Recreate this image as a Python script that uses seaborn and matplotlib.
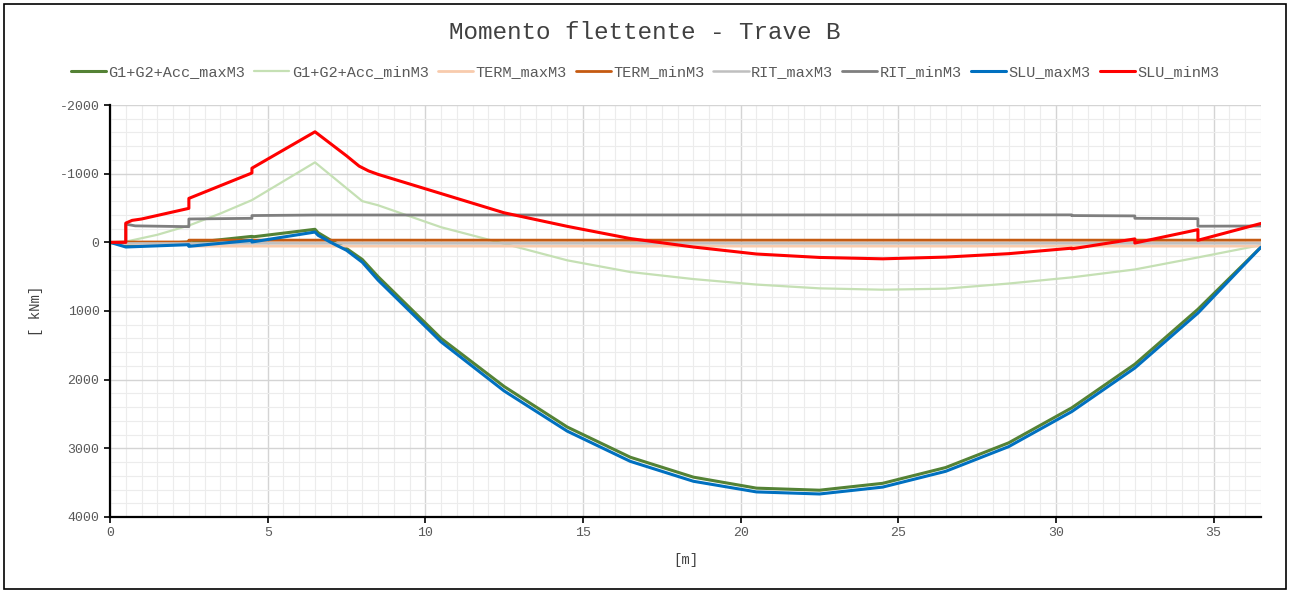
import numpy as np
import pandas as pd
import matplotlib
matplotlib.use("Agg")
import matplotlib.pyplot as plt
from matplotlib.ticker import MultipleLocator
from matplotlib.patches import Rectangle
import seaborn as sns

# ---------------- data ----------------
x_g1max = [0, 0.5, 2.5, 2.5, 4.5, 4.5, 6.5, 6.6, 7.0, 7.5, 8.0, 8.5, 10.5, 12.5, 14.5, 16.5,
           18.5, 20.5, 22.5, 24.5, 26.5, 28.5, 30.5, 32.5, 34.5, 36.5]
y_g1max = [0, 45, -5, 10, -87, -78, -190, -140, -30, 90, 250, 500, 1400, 2100, 2690, 3130,
           3420, 3580, 3610, 3510, 3280, 2920, 2410, 1775, 975, 70]

x_g1min = [0, 0.5, 1.5, 2.5, 3.5, 4.5, 6.5, 8.0, 8.5, 10.5, 12.5, 14.5, 16.5, 18.5, 20.5,
           22.5, 24.5, 26.5, 28.5, 30.5, 32.5, 34.5, 36.5]
y_g1min = [0, -10, -110, -245, -420, -615, -1165, -600, -540, -220, 20, 262, 432, 535, 615,
           670, 690, 675, 600, 510, 395, 220, 40]

x_termmax = [0, 0.5, 2.5, 2.5, 36.5]
y_termmax = [0, 20, 20, 55, 55]

x_termmin = [0, 0.5, 2.5, 2.5, 36.5]
y_termmin = [0, -5, -5, -32, -32]

x_ritmax = [0, 0.5, 36.5]
y_ritmax = [0, 15, 15]

x_ritmin = [0, 0.5, 0.5, 0.8, 2.5, 2.5, 4.5, 4.5, 6.5, 30.5, 30.5, 32.5, 32.5, 34.5, 34.5, 36.5]
y_ritmin = [0, 0, -265, -240, -228, -340, -350, -390, -398, -400, -390, -385, -350, -345, -235, -238]

x_slumax = [0, 0.5, 2.5, 2.5, 4.5, 4.5, 6.5, 6.6, 7.0, 7.5, 8.0, 8.5, 10.5, 12.5, 14.5, 16.5,
            18.5, 20.5, 22.5, 24.5, 26.5, 28.5, 30.5, 32.5, 34.5, 36.5]
y_slumax = [0, 68, 34, 58, -29, -5, -150, -102, 0, 116, 290, 550, 1450, 2165, 2750, 3190,
            3480, 3635, 3665, 3565, 3335, 2975, 2465, 1830, 1030, 70]

x_slumin = [0, 0.5, 0.5, 0.7, 1.0, 2.5, 2.5, 4.5, 4.5, 6.5, 7.5, 7.9, 8.2, 8.5, 10.5, 12.5,
            14.5, 16.5, 18.5, 20.5, 22.5, 24.5, 26.5, 28.5, 30.5, 30.5, 32.5, 32.5, 34.5, 34.5, 36.5]
y_slumin = [0, 0, -280, -320, -340, -495, -640, -1010, -1080, -1610, -1260, -1110, -1040, -990, -710, -430,
            -233, -55, 68, 170, 220, 240, 215, 165, 85, 95, -50, 10, -185, -30, -275]

labels = ["G1+G2+Acc_maxM3", "G1+G2+Acc_minM3", "TERM_maxM3", "TERM_minM3",
          "RIT_maxM3", "RIT_minM3", "SLU_maxM3", "SLU_minM3"]

# ---------------- style ----------------
colors = ["#548235", "#C5E0B4", "#F8CBAD", "#C55A11", "#BFBFBF", "#7F7F7F", "#0070C0", "#FF0000"]
widths = [2.2, 1.6, 2.0, 2.0, 1.8, 2.0, 2.2, 2.2]

sns.set_theme(style="white")
plt.rcParams["font.family"] = ["Liberation Mono", "DejaVu Sans Mono"]
plt.rcParams["axes.unicode_minus"] = False

series = [(x_g1max, y_g1max), (x_g1min, y_g1min), (x_termmax, y_termmax), (x_termmin, y_termmin),
          (x_ritmax, y_ritmax), (x_ritmin, y_ritmin), (x_slumax, y_slumax), (x_slumin, y_slumin)]

fig = plt.figure(figsize=(12.9, 5.93), dpi=100)
ax = fig.add_axes([0.0853, 0.1282, 0.8922, 0.6947])

for (xs, ys), lab, col, lw in zip(series, labels, colors, widths):
    df = pd.DataFrame({"x": xs, "M": ys})
    sns.lineplot(data=df, x="x", y="M", ax=ax, color=col, linewidth=lw, label=lab,
                 estimator=None, sort=False)

ax.set_xlim(0, 36.5)
ax.set_ylim(4000, -2000)
ax.xaxis.set_major_locator(MultipleLocator(5))
ax.xaxis.set_minor_locator(MultipleLocator(0.5))
ax.yaxis.set_major_locator(MultipleLocator(1000))
ax.yaxis.set_minor_locator(MultipleLocator(200))
ax.grid(which="major", color="#d4d4d4", linewidth=1.0)
ax.grid(which="minor", color="#ececec", linewidth=0.8)
ax.set_axisbelow(True)

for s in ["top", "right"]:
    ax.spines[s].set_visible(False)
for s in ["left", "bottom"]:
    ax.spines[s].set_color("black")
    ax.spines[s].set_linewidth(1.6)

ax.tick_params(axis="both", which="major", direction="out", length=4, width=1.2,
               color="black", labelsize=9.5, labelcolor="#595959", left=True, bottom=True)
ax.tick_params(axis="both", which="minor", length=0)

ax.set_xlabel("[m]", fontsize=10, color="#404040", labelpad=10)
ax.set_ylabel("[ kNm]", fontsize=10, color="#404040", labelpad=12)

fig.text(0.5, 0.946, "Momento flettente - Trave B", ha="center", va="center",
         fontsize=17.5, color="#404040")

ax.legend(loc="center", bbox_to_anchor=(0.5, 0.878), bbox_transform=fig.transFigure,
          ncol=8, frameon=False, fontsize=11, handlelength=2.3, handletextpad=0.15,
          columnspacing=0.6, labelcolor="#595959")

fig.patches.append(Rectangle((0.003, 0.006), 0.994, 0.988, transform=fig.transFigure,
                             fill=False, edgecolor="black", linewidth=1.2))

fig.savefig("out.png", dpi=100)
